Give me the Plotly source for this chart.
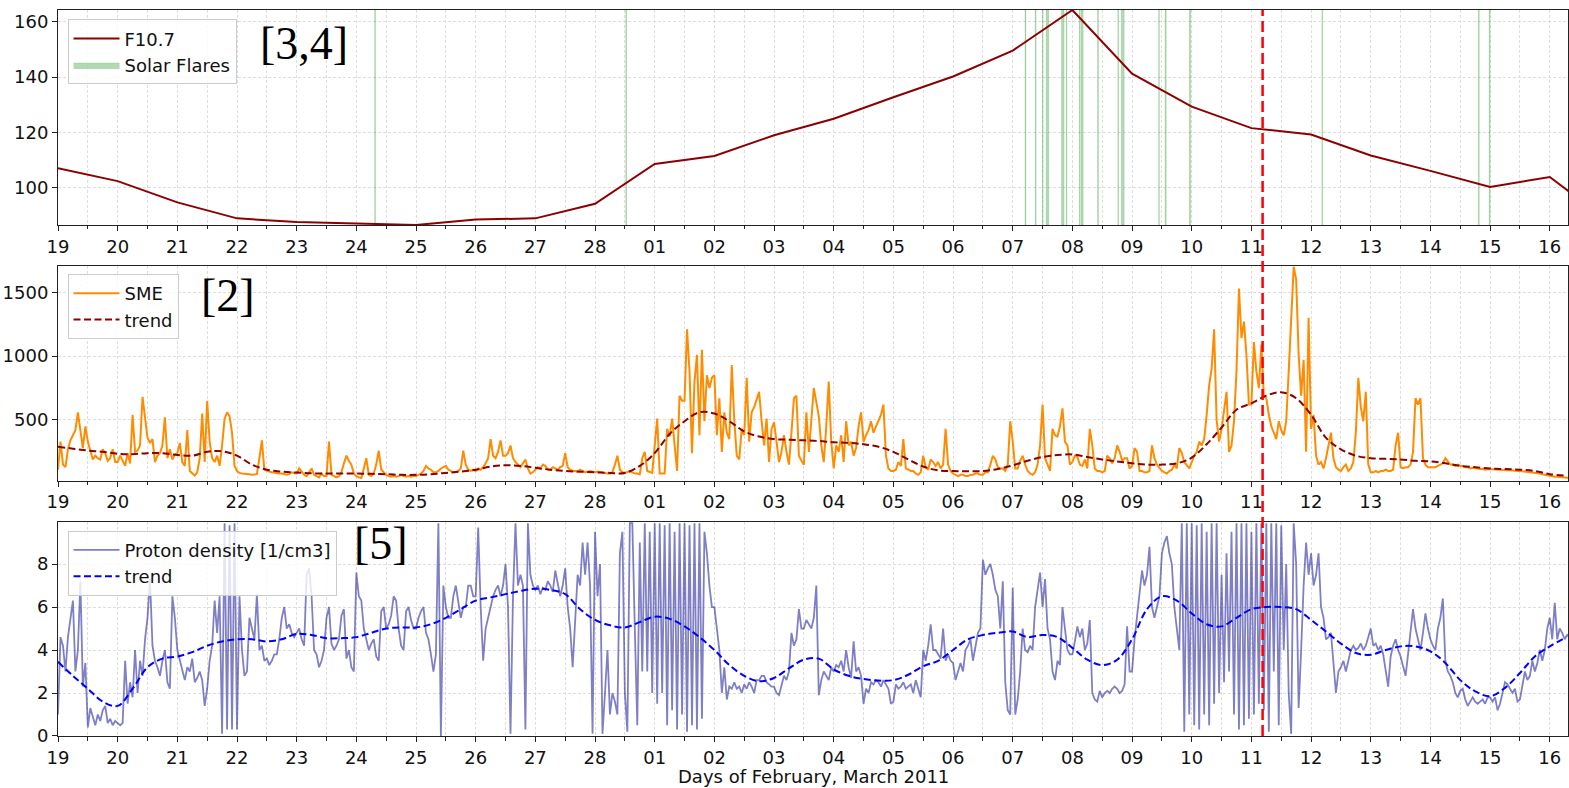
import pandas as pd
import plotly.graph_objects as go

# ------------------------------------------------------------------ data
START = "2011-02-19"
X_END = "2011-03-16 07:20"
EVENT_TIME = "2011-03-11 04:30"

# daily F10.7 solar flux (sfu), 19 Feb .. 17 Mar
f107_values = [107.0, 102.3, 94.6, 88.8, 87.5, 87.0, 86.4, 88.4, 88.8, 94.1,
               108.5, 111.4, 118.9, 124.9, 132.7, 140.2, 149.6, 164.3, 141.2, 129.3,
               121.5, 119.2, 111.6, 106.0, 100.2, 103.8, 87.5]

# solar flare intervals (UT)
flare_starts = ["2011-02-24 07:20", "2011-02-28 12:20", "2011-03-07 04:55", "2011-03-07 09:00",
                "2011-03-07 11:55", "2011-03-07 13:25", "2011-03-07 19:35", "2011-03-07 21:30",
                "2011-03-08 02:45", "2011-03-08 03:25", "2011-03-08 10:05", "2011-03-08 18:15",
                "2011-03-08 19:40", "2011-03-09 10:40", "2011-03-09 13:15", "2011-03-09 23:00",
                "2011-03-12 04:20", "2011-03-14 19:15", "2011-03-14 23:35"]
flare_ends = ["2011-02-24 07:45", "2011-02-28 12:45", "2011-03-07 05:20", "2011-03-07 09:25",
              "2011-03-07 12:15", "2011-03-07 14:30", "2011-03-07 20:40", "2011-03-07 21:50",
              "2011-03-08 03:05", "2011-03-08 04:20", "2011-03-08 10:30", "2011-03-08 18:35",
              "2011-03-08 20:50", "2011-03-09 11:00", "2011-03-09 13:45", "2011-03-09 23:35",
              "2011-03-12 04:40", "2011-03-14 19:40", "2011-03-15 00:00"]

# SME index (nT), hourly from 19 Feb 00 UT
sme_values = [
    110, 330, 150, 130, 270, 340, 380, 420, 560, 400, 280, 450, 330, 260, 190, 220, 200, 190, 270, 240, 180, 200, 270, 170,  # Feb 19
    170, 220, 180, 140, 240, 160, 540, 250, 260, 300, 680, 520, 360, 320, 350, 170, 220, 240, 300, 520, 200, 270, 190, 230,  # Feb 20
    240, 320, 170, 140, 420, 100, 80, 65, 90, 200, 550, 170, 650, 330, 200, 170, 220, 140, 300, 510, 560, 530, 400, 140,     # Feb 21
    100, 85, 80, 80, 75, 75, 70, 70, 75, 200, 340, 110, 100, 95, 90, 85, 80, 80, 80, 75, 70, 75, 90, 85,                    # Feb 22
    80, 120, 90, 70, 60, 90, 120, 70, 60, 50, 80, 60, 60, 330, 70, 60, 50, 60, 90, 160, 220, 180, 150, 80,                   # Feb 23
    60, 50, 45, 120, 200, 70, 60, 80, 150, 260, 110, 90, 70, 60, 55, 60, 55, 60, 70, 60, 55, 60, 55, 60,                     # Feb 24
    60, 70, 80, 100, 140, 120, 110, 90, 90, 100, 120, 130, 140, 110, 100, 90, 90, 100, 120, 260, 150, 110, 100, 110,         # Feb 25
    100, 120, 110, 130, 160, 200, 350, 220, 200, 250, 340, 220, 220, 240, 300, 200, 170, 150, 130, 160, 190, 120, 80, 90,    # Feb 26
    110, 130, 120, 150, 140, 110, 110, 130, 120, 110, 130, 140, 240, 130, 110, 100, 100, 95, 110, 100, 90, 95, 100, 95,      # Feb 27
    90, 95, 90, 85, 85, 80, 80, 90, 150, 220, 110, 90, 85, 90, 100, 90, 80, 80, 75, 200, 250, 100, 90, 85,                   # Feb 28
    300, 510, 80, 80, 80, 430, 370, 510, 300, 100, 690, 650, 650, 1210, 880, 240, 800, 1010, 380, 1050, 490, 850, 750, 830,  # Mar 1
    850, 380, 670, 250, 560, 400, 350, 930, 500, 220, 190, 430, 380, 830, 330, 560, 600, 670, 720, 490, 300, 510, 170, 430,  # Mar 2
    480, 330, 170, 250, 380, 250, 150, 400, 670, 690, 220, 180, 150, 560, 250, 500, 750, 640, 530, 300, 170, 450, 800, 330,  # Mar 3
    120, 300, 250, 380, 170, 490, 300, 330, 220, 280, 450, 560, 330, 380, 420, 490, 400, 450, 500, 540, 620, 220, 120, 100,  # Mar 4
    100, 110, 170, 140, 350, 120, 110, 100, 100, 80, 70, 90, 220, 130, 110, 190, 170, 140, 170, 120, 150, 430, 150, 100,     # Mar 5
    80, 70, 60, 70, 70, 60, 60, 70, 70, 80, 80, 70, 70, 90, 90, 150, 220, 190, 130, 120, 120, 100, 150, 490,                 # Mar 6
    330, 120, 120, 180, 220, 150, 100, 80, 70, 90, 150, 300, 620, 200, 150, 100, 430, 380, 370, 450, 590, 330, 300, 150,     # Mar 7
    170, 220, 210, 150, 140, 190, 120, 430, 300, 120, 100, 100, 90, 100, 220, 200, 160, 200, 300, 250, 180, 200, 200, 120,   # Mar 8
    140, 280, 250, 100, 100, 90, 90, 100, 300, 200, 150, 120, 100, 90, 80, 100, 110, 150, 120, 280, 240, 170, 140, 120,      # Mar 9
    170, 220, 250, 330, 300, 350, 540, 770, 900, 1210, 500, 330, 430, 600, 720, 250, 300, 490, 880, 1530, 1140, 1270, 1010, 620,  # Mar 10
    620, 1110, 880, 750, 1090, 690, 670, 540, 450, 400, 350, 490, 420, 380, 490, 880, 1270, 1700, 1600, 1010, 690, 970, 250, 1300,  # Mar 11
    430, 540, 220, 150, 170, 120, 200, 300, 400, 200, 130, 110, 100, 130, 150, 100, 120, 170, 400, 830, 600, 490, 720, 150,  # Mar 12
    90, 90, 100, 90, 100, 100, 110, 100, 100, 110, 300, 400, 130, 120, 130, 130, 150, 250, 670, 620, 670, 200, 150, 130,     # Mar 13
    130, 130, 130, 140, 150, 160, 200, 170, 150, 150, 140, 150, 140, 140, 130, 130, 120, 125, 120, 120, 115, 115, 110, 115,  # Mar 14
    115, 112, 110, 110, 110, 108, 105, 105, 105, 102, 100, 100, 100, 98, 95, 92, 90, 88, 85, 82, 80, 75, 70, 65,             # Mar 15
    60, 58, 55, 55, 55, 52, 50, 48, 45,                                                                                      # Mar 16
]

# smoothed SME, 6-hourly
sme_trend_values = [
    290, 275, 260, 250,  235, 232, 240, 240,  225, 220, 250, 255,  220, 150, 110, 95,
    88, 82, 80, 80,  80, 78, 75, 70,  70, 75, 85, 95,  110, 135, 145, 140,
    125, 110, 100, 95,  90, 85, 85, 140,  240, 390, 490, 560,  550, 490, 410, 370,
    350, 345, 340, 335,  325, 320, 310, 290,  250, 190, 135, 105,  100, 98, 100, 115,
    145, 180, 210, 225,  230, 210, 190, 175,  160, 150, 150, 160,  205, 310, 440, 580,
    630, 690, 717, 670,  540, 360, 270, 220,  200, 195, 190, 180,  175, 160, 140, 130,
    120, 115, 110, 100,  75, 65,
]

# solar-wind proton density (1/cm3), hourly from 19 Feb 00 UT
proton_values = [
    1.0, 4.6, 4.2, 3.0, 4.6, 5.5, 6.3, 3.0, 4.0, 7.2, 2.3, 3.4, 0.4, 1.3, 0.9, 0.5, 1.0, 0.7, 1.2, 1.4, 0.6, 0.8, 0.5, 0.7,  # Feb 19
    0.6, 0.5, 0.6, 3.5, 1.5, 2.5, 1.8, 4.0, 2.0, 3.5, 2.8, 4.5, 5.5, 7.3, 4.2, 3.5, 3.2, 2.8, 3.5, 4.0, 2.5, 2.2, 6.5, 5.5,  # Feb 20
    4.0, 3.5, 3.0, 2.6, 3.2, 3.0, 3.6, 2.5, 2.7, 3.0, 2.6, 1.4, 2.2, 3.5, 4.2, 6.3, 4.8, 6.5, 0.1, 9.9, 0.3, 9.8, 0.3, 9.9,  # Feb 21
    0.3, 6.5, 4.0, 2.8, 3.0, 5.5, 5.0, 4.5, 6.6, 4.0, 4.2, 3.5, 3.6, 3.3, 3.5, 3.8, 3.8, 4.5, 5.5, 6.0, 5.0, 5.2, 4.8, 4.6,  # Feb 22
    4.8, 5.0, 4.5, 4.2, 7.5, 7.8, 6.5, 4.0, 3.8, 3.2, 3.5, 4.0, 5.5, 6.0, 4.3, 4.0, 4.2, 4.5, 5.6, 5.9, 3.6, 4.0, 3.2, 3.0,  # Feb 23
    7.6, 6.5, 6.3, 5.0, 4.5, 4.0, 4.3, 4.5, 3.7, 3.5, 5.8, 6.0, 5.0, 5.2, 5.6, 6.5, 6.3, 5.0, 4.2, 4.0, 5.8, 6.0, 5.4, 5.0,  # Feb 24
    5.0, 5.5, 5.8, 6.0, 4.8, 4.5, 3.8, 3.0, 3.8, 9.9, 0.0, 7.0, 6.0, 5.5, 5.5, 6.5, 7.0, 6.2, 5.5, 6.0, 6.0, 7.0, 7.0, 6.5,  # Feb 25
    6.5, 9.7, 6.0, 3.5, 5.0, 5.5, 6.0, 6.5, 6.8, 7.0, 6.5, 7.0, 8.0, 6.0, 0.1, 6.5, 9.9, 7.0, 7.5, 7.0, 0.3, 9.9, 7.5, 7.0,  # Feb 26
    6.8, 7.0, 6.6, 6.9, 6.8, 7.2, 7.0, 6.7, 7.7, 7.0, 6.5, 7.0, 7.8, 6.0, 5.0, 3.2, 5.5, 7.5, 7.0, 9.0, 7.5, 9.0, 7.0, 0.1,  # Feb 27
    9.5, 6.5, 8.0, 0.1, 2.0, 4.0, 1.0, 2.0, 1.6, 1.0, 8.5, 9.5, 2.0, 0.2, 9.9, 9.9, 5.0, 0.5, 9.0, 3.0, 9.9, 3.0, 9.5, 2.0,  # Feb 28
    9.9, 1.5, 9.9, 2.0, 9.8, 0.5, 9.9, 1.2, 9.5, 0.3, 9.9, 1.0, 9.9, 0.2, 9.8, 0.5, 9.9, 0.3, 9.9, 0.8, 9.5, 8.5, 7.0, 6.0,  # Mar 1
    6.0, 5.0, 4.0, 2.0, 3.2, 1.7, 2.3, 2.2, 2.5, 2.2, 2.3, 2.0, 2.4, 2.2, 2.5, 2.3, 2.0, 2.6, 2.6, 2.8, 2.8, 2.5, 2.4, 2.3,  # Mar 2
    2.3, 2.0, 1.9, 2.4, 2.8, 2.6, 3.0, 4.8, 4.2, 4.5, 5.9, 5.0, 5.0, 5.4, 5.2, 5.0, 5.5, 7.0, 1.9, 2.6, 3.0, 2.8, 2.6, 3.2,  # Mar 3
    3.0, 3.3, 3.2, 3.5, 3.0, 4.0, 3.2, 2.7, 4.4, 3.0, 3.2, 2.8, 1.5, 2.2, 2.0, 2.5, 2.4, 2.6, 2.5, 2.3, 2.6, 2.4, 2.2, 1.5,  # Mar 4
    1.6, 2.4, 2.2, 2.3, 2.5, 2.2, 2.3, 2.4, 2.0, 2.6, 2.2, 1.8, 4.0, 3.5, 4.2, 5.2, 4.0, 4.0, 3.8, 3.6, 5.0, 3.5, 3.8, 3.5,  # Mar 5
    3.4, 2.6, 3.0, 3.4, 3.0, 4.0, 4.2, 4.5, 3.5, 4.2, 4.8, 5.0, 8.2, 7.5, 7.8, 8.0, 7.5, 6.8, 6.5, 5.0, 7.2, 2.5, 1.2, 1.0,  # Mar 6
    6.9, 1.0, 1.7, 3.0, 5.0, 4.0, 3.9, 4.2, 4.0, 6.0, 6.9, 7.6, 6.0, 7.3, 5.0, 4.5, 3.0, 2.6, 3.5, 3.3, 6.0, 5.0, 4.0, 3.8,  # Mar 7
    3.8, 4.4, 5.1, 4.6, 5.0, 4.0, 4.3, 5.4, 2.0, 1.7, 1.6, 2.1, 1.8, 2.0, 2.1, 2.0, 2.2, 2.3, 2.2, 2.0, 2.1, 2.4, 5.1, 3.0,  # Mar 8
    3.0, 4.5, 5.5, 6.5, 7.7, 7.0, 7.5, 8.8, 6.0, 5.5, 6.0, 6.5, 8.5, 9.0, 9.3, 8.5, 8.0, 6.0, 5.0, 4.0, 9.9, 0.2, 9.9, 1.0,  # Mar 9
    9.9, 0.5, 9.8, 0.3, 9.9, 1.0, 9.5, 0.5, 9.9, 1.5, 9.9, 2.0, 7.5, 2.5, 8.5, 3.0, 9.5, 1.0, 9.9, 0.3, 9.9, 0.5, 9.9, 0.8,  # Mar 10
    9.5, 1.0, 9.9, 1.5, 9.9, 1.2, 9.9, 0.2, 9.9, 3.0, 9.9, 0.5, 9.8, 4.0, 8.0, 2.0, 0.1, 9.9, 8.0, 1.3, 4.0, 7.0, 9.0, 7.5,  # Mar 11
    8.5, 7.0, 7.5, 8.5, 6.0, 5.5, 4.5, 4.6, 4.8, 3.5, 2.0, 3.0, 3.2, 3.5, 3.0, 3.5, 4.0, 4.2, 4.0, 4.1, 4.3, 4.0, 4.2, 4.6,  # Mar 12
    5.0, 4.2, 4.3, 4.0, 4.2, 3.8, 3.0, 2.3, 3.7, 4.2, 4.5, 4.0, 3.7, 3.2, 2.8, 3.8, 5.0, 5.9, 5.0, 4.5, 4.0, 4.8, 5.7, 5.0,  # Mar 13
    4.5, 4.2, 4.0, 5.0, 5.5, 6.4, 3.5, 3.0, 2.8, 2.5, 2.0, 1.8, 2.1, 2.2, 1.7, 1.4, 1.6, 1.8, 1.6, 1.5, 1.6, 1.7, 1.5, 1.8,  # Mar 14
    1.8, 1.6, 1.8, 1.2, 1.5, 2.0, 2.5, 2.4, 2.2, 2.0, 2.2, 1.6, 1.7, 2.4, 3.0, 2.6, 2.8, 3.5, 3.0, 3.4, 4.0, 3.5, 4.0, 5.0,  # Mar 15
    5.5, 4.5, 6.2, 4.5, 5.0, 4.8, 4.5, 4.7, 4.6,                                                                            # Mar 16
]

# smoothed proton density, 6-hourly
proton_trend_values = [
    3.45, 2.8, 2.2, 1.6,  1.4, 2.2, 3.2, 3.6,  3.7, 3.9, 4.2, 4.4,  4.5, 4.5, 4.4, 4.5,
    4.75, 4.7, 4.55, 4.55,  4.6, 4.8, 5.0, 5.05,  5.05, 5.2, 5.5, 5.9,  6.3, 6.45, 6.6, 6.75,
    6.85, 6.8, 6.6, 5.9,  5.4, 5.15, 5.05, 5.3,  5.55, 5.45, 5.1, 4.6,  4.0, 3.3, 2.8, 2.55,
    2.7, 3.15, 3.55, 3.6,  3.1, 2.8, 2.65, 2.58,  2.6, 2.85, 3.25, 3.5,  4.0, 4.5, 4.7, 4.8,
    4.86, 4.6, 4.7, 4.6,  4.1, 3.55, 3.3, 3.55,  4.5, 5.9, 6.5, 6.3,  5.7, 5.2, 5.1, 5.5,
    5.9, 6.0, 6.0, 5.9,  5.4, 4.86, 4.3, 3.86,  3.78, 4.0, 4.17, 4.17,  3.94, 3.4, 2.6, 2.08,
    1.85, 2.24, 2.93, 3.7,  4.17, 4.55,
]

SME_RANGE = [24, 1708]
PROTON_RANGE = [0, 9.97]

# ------------------------------------------------------------------ time bases
f107_time = pd.date_range(START, periods=len(f107_values), freq="D")
sme_time = pd.date_range(START, periods=len(sme_values), freq="1h")
sme_trend_time = pd.date_range(START, periods=len(sme_trend_values), freq="6h")
proton_time = pd.date_range(START, periods=len(proton_values), freq="1h")
proton_trend_time = pd.date_range(START, periods=len(proton_trend_values), freq="6h")

f_lo, f_hi = min(f107_values), max(f107_values)

# flare spans as closed polygons filling the whole F10.7 panel height
flare_x, flare_y = [], []
for s, e in zip(flare_starts, flare_ends):
    flare_x += [s, s, e, e, s, None]
    flare_y += [f_lo, f_hi, f_hi, f_lo, f_lo, None]

# ------------------------------------------------------------------ figure
fig = go.Figure()

fig.add_trace(go.Scatter(
    x=flare_x, y=flare_y, mode="lines", fill="toself",
    fillcolor="rgba(0,128,0,0.3)", line=dict(color="rgba(0,128,0,0.3)", width=0.4),
    name="Solar Flares", xaxis="x", yaxis="y", legend="legend", legendrank=2,
    hoverinfo="skip"))
fig.add_trace(go.Scatter(
    x=f107_time, y=f107_values, mode="lines", line=dict(color="#8B0000", width=2),
    name="F10.7", xaxis="x", yaxis="y", legend="legend", legendrank=1))

fig.add_trace(go.Scatter(
    x=sme_time, y=sme_values, mode="lines", line=dict(color="#FF8C00", width=2),
    name="SME", xaxis="x2", yaxis="y2", legend="legend2"))
fig.add_trace(go.Scatter(
    x=sme_trend_time, y=sme_trend_values, mode="lines", line_shape="spline",
    line=dict(color="#8B0000", width=2, dash="7px,3.5px"),
    name="trend", xaxis="x2", yaxis="y2", legend="legend2"))

fig.add_trace(go.Scatter(
    x=proton_time, y=proton_values, mode="lines",
    line=dict(color="rgba(0,0,139,0.5)", width=1.8),
    name="Proton density [1/cm3]", xaxis="x3", yaxis="y3", legend="legend3"))
fig.add_trace(go.Scatter(
    x=proton_trend_time, y=proton_trend_values, mode="lines", line_shape="spline",
    line=dict(color="#0000FF", width=2, dash="7px,3.5px"),
    name="trend", xaxis="x3", yaxis="y3", legend="legend3"))

GRID = "#dedede"
AX = "#222222"

x_common = dict(
    type="date", range=[START, X_END], tick0=START, dtick=86400000, tickformat="%d",
    ticks="outside", ticklen=5, tickwidth=1, tickcolor=AX,
    showline=True, linecolor=AX, linewidth=1, mirror=True,
    showgrid=True, gridcolor=GRID, griddash="3px,2px", gridwidth=1,
    minor=dict(tick0=START, dtick=43200000, ticks="outside", ticklen=3.5, tickcolor=AX,
               showgrid=True, gridcolor=GRID, griddash="3px,2px", gridwidth=1),
    tickfont=dict(size=18), zeroline=False,
)
y_common = dict(
    ticks="outside", ticklen=5, tickwidth=1, tickcolor=AX,
    showline=True, linecolor=AX, linewidth=1, mirror=True,
    showgrid=True, gridcolor=GRID, griddash="3px,2px", gridwidth=1,
    tickfont=dict(size=18), zeroline=False,
)

legend_common = dict(
    xanchor="left", yanchor="top", bgcolor="rgba(255,255,255,0.8)",
    bordercolor="#cccccc", borderwidth=1, font=dict(size=18, color="#111111"),
    tracegroupgap=0, traceorder="normal", itemwidth=46,
)

fig.update_layout(
    width=1569, height=788,
    margin=dict(l=58, r=1, t=10, b=52),
    paper_bgcolor="white", plot_bgcolor="white",
    font=dict(family="DejaVu Sans", size=18, color="#111111"),
    showlegend=True,
    xaxis=dict(x_common, anchor="y"),
    xaxis2=dict(x_common, anchor="y2", matches="x"),
    xaxis3=dict(x_common, anchor="y3", matches="x"),
    yaxis=dict(y_common, domain=[0.70386, 1.0], range=[f_lo, f_hi], tick0=0, dtick=20),
    yaxis2=dict(y_common, domain=[0.35165, 0.64780], range=SME_RANGE, tick0=0, dtick=500),
    yaxis3=dict(y_common, domain=[0.0, 0.29518], range=PROTON_RANGE, tick0=0, dtick=2),
    legend=dict(legend_common, x=0.0063, y=0.9872),
    legend2=dict(legend_common, x=0.0063, y=0.6364),
    legend3=dict(legend_common, x=0.0063, y=0.2828),
)

# event marker across all panels
fig.add_shape(type="line", xref="x", yref="paper", x0=EVENT_TIME, x1=EVENT_TIME,
              y0=0, y1=1, line=dict(color="red", width=2.5, dash="11px,5px"), layer="above")

# panel tags and the shared x-axis label
for text, x, y in [("[3,4]", 0.1325, 0.9532), ("[2]", 0.0934, 0.6061), ("[5]", 0.1947, 0.2658)]:
    fig.add_annotation(text=text, xref="paper", yref="paper", x=x, y=y,
                       xanchor="left", yanchor="middle", showarrow=False,
                       font=dict(family="Liberation Serif", size=46, color="black"))
fig.add_annotation(text="Days of February, March 2011", xref="paper", yref="paper",
                   x=0.5, y=-0.0551, xanchor="center", yanchor="middle", showarrow=False,
                   font=dict(size=18, color="#111111"))

fig.write_html("out.html")
